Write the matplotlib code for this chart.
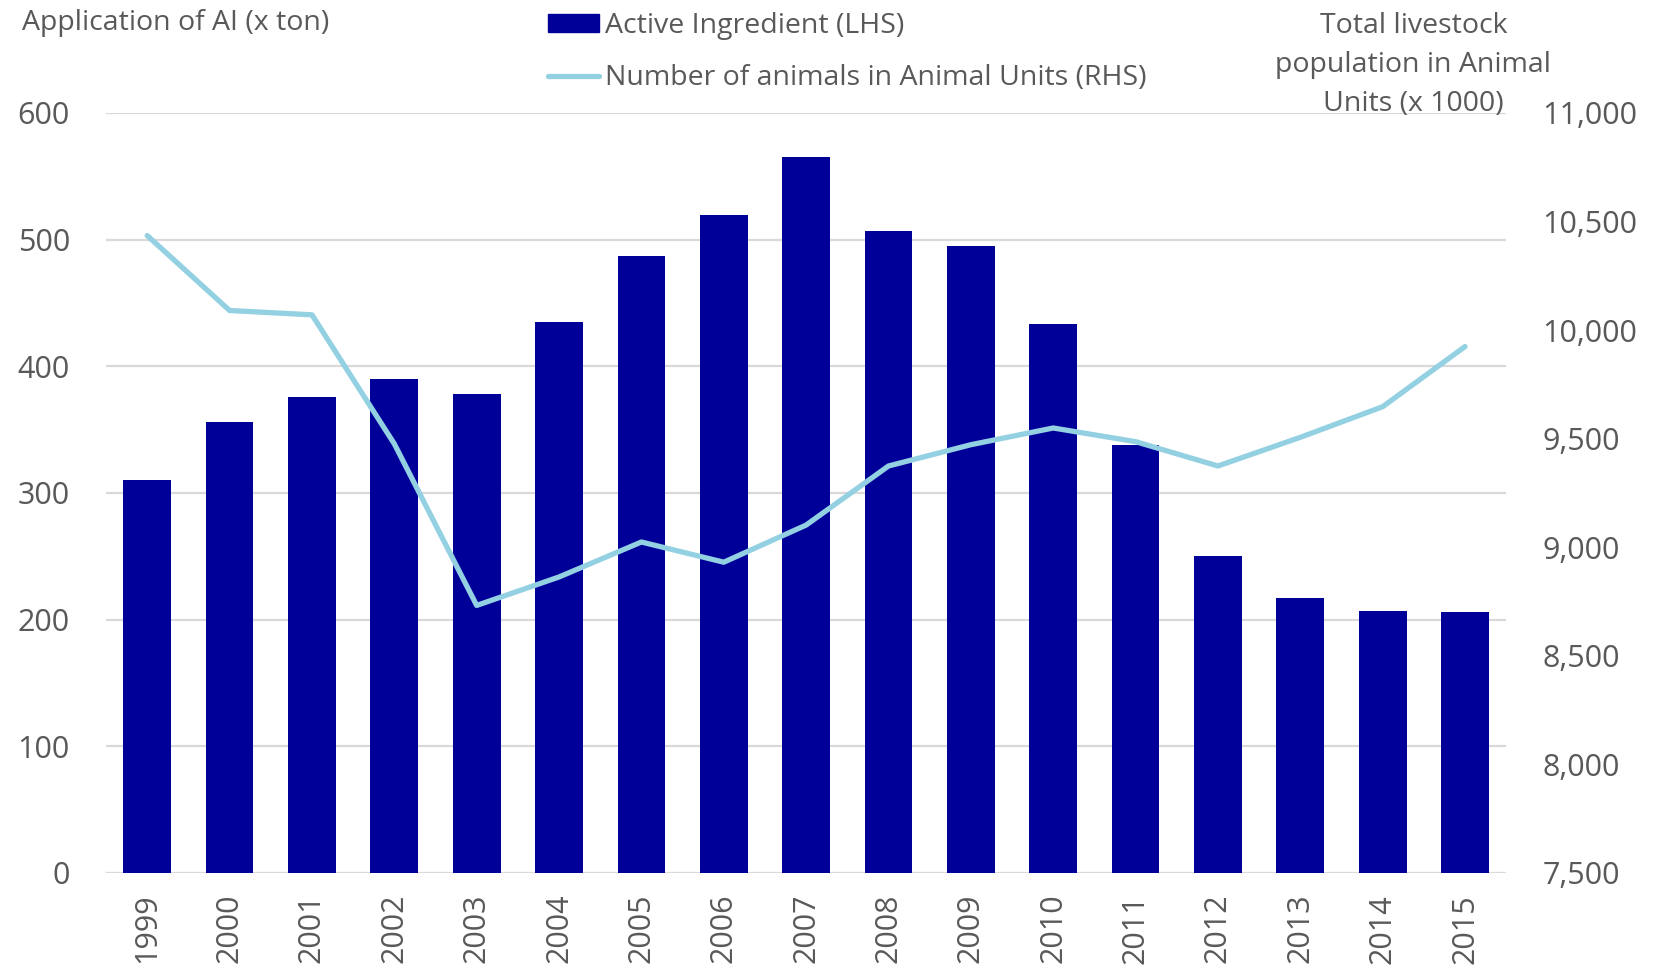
import matplotlib.pyplot as plt
from matplotlib.lines import Line2D
from matplotlib.patches import Patch
from matplotlib.ticker import FuncFormatter

years = [str(y) for y in range(1999, 2016)]
active_ingredient = [310, 356, 376, 390, 378, 435, 487, 519, 565, 507, 495, 433, 338, 250, 217, 207, 206]
animal_units = [10435, 10090, 10070, 9476, 8732, 8863, 9024, 8931, 9102, 9374,
                9472, 9549, 9486, 9374, 9506, 9647, 9924]

bar_color = '#000099'
line_color = '#92D0E2'
text_color = '#595959'
grid_color = '#D9D9D9'
fs = 20.5
tick_fs = 22

plt.rcParams['font.family'] = ['Open Sans', 'DejaVu Sans']

fig = plt.figure(figsize=(16.57, 9.73), dpi=100)
ax = fig.add_axes([0.064, 0.1028, 0.845, 0.7812])
ax2 = ax.twinx()

x = list(range(len(years)))
ax.bar(x, active_ingredient, width=0.58, color=bar_color, zorder=2)
ax2.plot(x, animal_units, color=line_color, lw=3.8, solid_capstyle='round', zorder=3)

ax.set_xlim(-0.5, len(years) - 0.5)
ax.set_ylim(0, 600)
ax.set_yticks(range(0, 601, 100))
ax2.set_ylim(7500, 11000)
ax2.set_yticks(range(7500, 11001, 500))
ax2.yaxis.set_major_formatter(FuncFormatter(lambda v, p: f'{int(v):,}'))

ax.set_xticks(x)
ax.set_xticklabels(years, rotation=90, va='top')
ax.grid(axis='y', color=grid_color, lw=1.6)
ax.set_axisbelow(True)

for a in (ax, ax2):
    for s in a.spines.values():
        s.set_visible(False)
    a.tick_params(length=0, labelsize=tick_fs, labelcolor=text_color)
ax.tick_params(axis='y', pad=26)
ax.tick_params(axis='x', pad=15)
ax2.tick_params(axis='y', pad=26)

fig.text(0.013, 0.976, 'Application of AI (x ton)', fontsize=fs, color=text_color,
         ha='left', va='center')
fig.text(0.853, 0.933, 'Total livestock\npopulation in Animal\nUnits (x 1000)', fontsize=fs,
         color=text_color, ha='center', va='center', linespacing=1.52)

handles = [Patch(color=bar_color), Line2D([0], [0], color=line_color, lw=3.8, solid_capstyle='round')]
labels = ['Active Ingredient (LHS)', 'Number of animals in Animal Units (RHS)']
leg = fig.legend(handles, labels, loc='upper left', bbox_to_anchor=(0.3185, 1.008), frameon=False,
                 fontsize=fs, handlelength=1.8, handleheight=0.6, handletextpad=0.2,
                 labelspacing=0.85, borderaxespad=0.3)
for t in leg.get_texts():
    t.set_color(text_color)

fig.savefig('out.png', dpi=100)
